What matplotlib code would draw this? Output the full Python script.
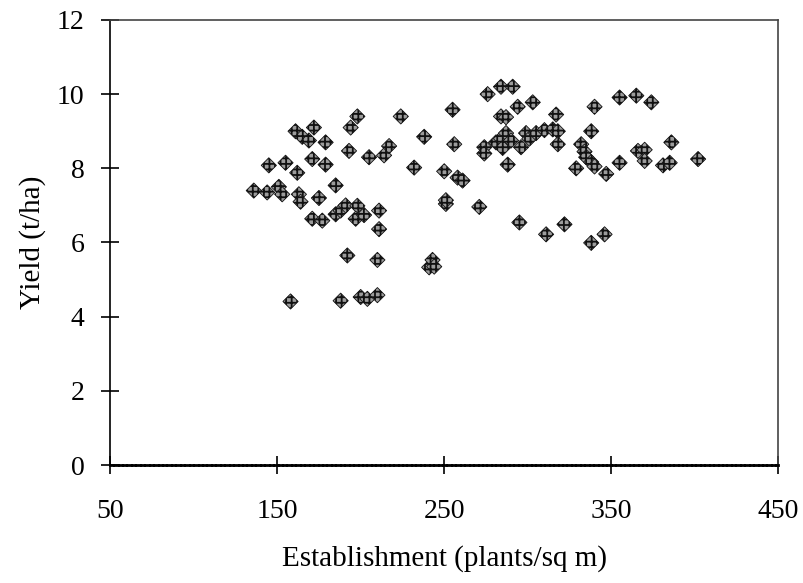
import numpy as np
import matplotlib
matplotlib.use("Agg")
from matplotlib import pyplot as plt

# establishment (plants/sq m) vs yield (t/ha)
establishment = [136, 144, 145, 151, 153, 155, 158, 161, 165, 169, 172, 162, 163, 164,
                 171, 175, 179, 179, 171, 177, 185, 185, 188, 191, 188, 193, 192, 194,
                 198, 198, 197, 202, 200, 204, 210, 205, 211, 211, 210, 214, 217, 224,
                 232, 238, 241, 243, 244, 250, 251, 251, 255, 256, 258, 261, 271, 274,
                 274, 276, 284, 291, 284, 287, 294, 303, 281, 284, 285, 287, 290, 288,
                 296, 299, 301, 305, 310, 315, 318, 317, 318, 295, 311, 322, 329, 332,
                 334, 335, 338, 340, 338, 340, 338, 346, 347, 355, 355, 365, 374, 366,
                 370, 370, 381, 385, 386, 402]
yield_tha = [7.4, 7.35, 8.08, 7.5, 7.3, 8.15, 4.41, 9.0, 8.85, 8.75, 9.1, 7.88, 7.3, 7.1,
             8.25, 7.2, 8.1, 8.7, 6.64, 6.59, 7.54, 6.76, 6.86, 7.0, 4.43, 8.47, 5.65, 9.1,
             9.4, 6.99, 6.64, 6.74, 4.53, 4.48, 4.58, 8.3, 6.86, 6.36, 5.53, 8.35, 8.6, 9.4,
             8.02, 8.85, 5.33, 5.53, 5.35, 7.92, 7.04, 7.14, 9.58, 8.65, 7.75, 7.67, 6.96, 8.57,
             8.4, 10.0, 10.2, 10.2, 9.4, 9.38, 9.66, 9.78, 8.7, 8.8, 8.55, 8.95, 8.75, 8.1,
             8.57, 8.95, 8.8, 8.95, 9.03, 9.05, 9.0, 9.45, 8.65, 6.54, 6.22, 6.49, 8.0, 8.65,
             8.45, 8.3, 8.17, 8.05, 9.0, 9.66, 5.99, 6.22, 7.85, 8.15, 9.91, 9.96, 9.78, 8.47,
             8.5, 8.2, 8.08, 8.15, 8.7, 8.25]

x_ticks = [50, 150, 250, 350, 450]
y_ticks = [0, 2, 4, 6, 8, 10, 12]

plt.rcParams['font.family'] = ['Liberation Serif', 'DejaVu Serif']
plt.rcParams['hatch.linewidth'] = 1.3

fig = plt.figure(figsize=(8.04, 5.83), dpi=100)
ax = fig.add_axes([0.137, 0.2024, 0.831, 0.7633])

ax.scatter(establishment, yield_tha, marker='D', s=60, facecolors='#9c9c9c',
           edgecolors='#111111', linewidths=0.6, hatch='+++', zorder=3)

ax.set_xlim(50, 450)
ax.set_ylim(0, 12)
ax.set_xticks(x_ticks)
ax.set_yticks(y_ticks)

for side in ['top', 'right']:
    ax.spines[side].set_linestyle((0, (1, 1)))
    ax.spines[side].set_color('#444444')
    ax.spines[side].set_linewidth(1.2)
ax.spines['bottom'].set_linestyle((0, (1, 0.6)))
ax.spines['bottom'].set_linewidth(2.0)
ax.spines['left'].set_linewidth(1.2)

ax.tick_params(axis='both', direction='inout', length=13, width=1.2, labelsize=20)
ax.tick_params(axis='x', pad=18)
ax.tick_params(axis='y', pad=12)

ax.set_xlabel('Establishment (plants/sq m)', fontsize=21, labelpad=15)
ax.set_ylabel('Yield (t/ha)', fontsize=21, labelpad=8)

fig.savefig('out.png', dpi=100)
